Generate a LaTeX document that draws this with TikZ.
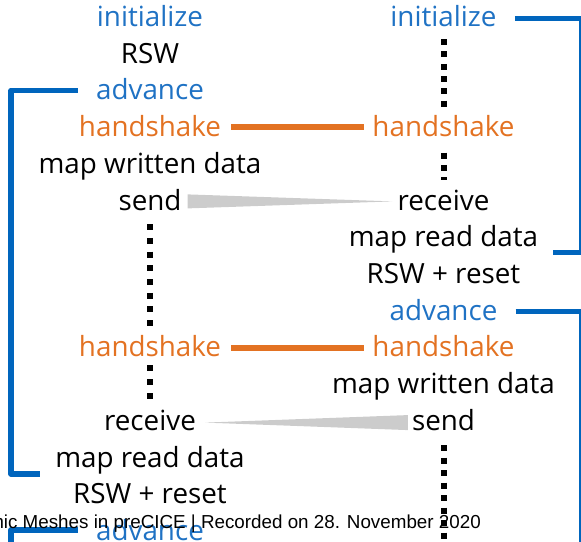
\documentclass[tikz,border=0pt]{standalone}
\usepackage{fontspec}
\setmainfont{Open Sans}
\newfontfamily\footfont{Liberation Sans}
\usetikzlibrary{calc}
\definecolor{brblue}{HTML}{0065BD}
\definecolor{txblue}{HTML}{1F72C4}
\definecolor{hsorange}{HTML}{E37222}
\definecolor{wedgegray}{HTML}{CCCCCC}
\begin{document}
\begin{tikzpicture}[x=1pt,y=1pt,
  lbl/.style={inner sep=0pt, anchor=base, text height=19.4pt, text depth=0pt,
              font=\fontsize{27.8}{27.8}\selectfont},
  bluetxt/.style={text=txblue},
  orangetxt/.style={text=hsorange},
  hslink/.style={draw=hsorange, line width=6pt},
  dotline/.style={line width=6pt, dash pattern=on 6pt off 6.3pt},
  bracket/.style={draw=brblue, line width=5.5pt, line join=round},
  wedge/.style={fill=wedgegray}]
\useasboundingbox (0,0) rectangle (581,541);
% left column
\node[lbl,bluetxt] (L0) at (150,514.4) {initialize};
\node[lbl] (L1) at (150,477.7) {RSW};
\node[lbl,bluetxt] (L2) at (150,441.0) {advance};
\node[lbl,orangetxt] (L3) at (150,404.3) {handshake};
\node[lbl] (L4) at (150,367.6) {map written data};
\node[lbl] (L5) at (150,330.9) {send};
\node[lbl,orangetxt] (L9) at (150,184.1) {handshake};
\node[lbl] (L11) at (150,110.7) {receive};
\node[lbl] (L12) at (150,74.0) {map read data};
\node[lbl] (L13) at (150,37.3) {RSW + reset};
\node[lbl,bluetxt] (L14) at (150,0.6) {advance};
% right column
\node[lbl,bluetxt] (R0) at (443.5,514.4) {initialize};
\node[lbl,orangetxt] (R3) at (443.5,404.3) {handshake};
\node[lbl] (R5) at (443.5,330.9) {receive};
\node[lbl] (R6) at (443.5,294.2) {map read data};
\node[lbl] (R7) at (443.5,257.5) {RSW + reset};
\node[lbl,bluetxt] (R8) at (443.5,220.8) {advance};
\node[lbl,orangetxt] (R9) at (443.5,184.1) {handshake};
\node[lbl] (R10) at (443.5,147.4) {map written data};
\node[lbl] (R11) at (443.5,110.7) {send};
% free ends
\coordinate (lb1) at (11,67);
\coordinate (lb1end) at (40,67);
\coordinate (rb1) at (582,288.5);
\coordinate (rb1end) at (553,288.5);
\coordinate (rb2) at (582,-10);
\coordinate (lb2) at (11,-10);
\coordinate (rdot) at (443.5,-10);
% handshake links
\draw[hslink] ($(L3.east)+(10,0)$) -- ($(R3.west)+(-8,0)$);
\draw[hslink] ($(L9.east)+(10,-0.8)$) -- ($(R9.west)+(-8,-0.8)$);
% data wedges
\fill[wedge] ($(L5.east)+(6,6)$) -- ($(R5.west)+(-5,-1)$) -- ($(L5.east)+(6,-8)$) -- cycle;
\fill[wedge] ($(L11.east)+(9,-2)$) -- ($(R11.west)+(-4,5.5)$) -- ($(R11.west)+(-4,-9.5)$) -- cycle;
% dotted waiting lines
\draw[dotline, shorten <=12.4pt, shorten >=8pt] (R0.south) -- (R3.north);
\draw[dotline, shorten <=15.7pt, shorten >=10.7pt] (R3.south) -- (R5.north);
\draw[dotline, dash pattern=on 6pt off 7.7pt, shorten <=14pt, shorten >=11.5pt] (L5.south) -- (L9.north);
\draw[dotline, dash pattern=on 6pt off 8pt, shorten <=8.1pt, shorten >=11.9pt] (L9.south) -- (L11.north);
\draw[dotline, dash pattern=on 6pt off 6.5pt, shorten <=14.7pt] (R11.south) -- (rdot);
% time-window brackets
\draw[bracket] ($(L2.west)+(-18,-0.2)$) -| (lb1) -- (lb1end);
\draw[bracket] ($(R0.east)+(18,-1.6)$) -| (rb1) -- (rb1end);
\draw[bracket] ($(R8.east)+(18,-1)$) -| (rb2);
\draw[bracket] ($(L14.west)+(-18,0.7)$) -| (lb2);
% footer
\node[font=\footfont\fontsize{18.8}{18.8}\selectfont, inner sep=0pt, anchor=base east] (foot) at (481,13) {Dynamic Meshes in preCICE | Recorded on 28. November 2020};
\end{tikzpicture}
\end{document}
